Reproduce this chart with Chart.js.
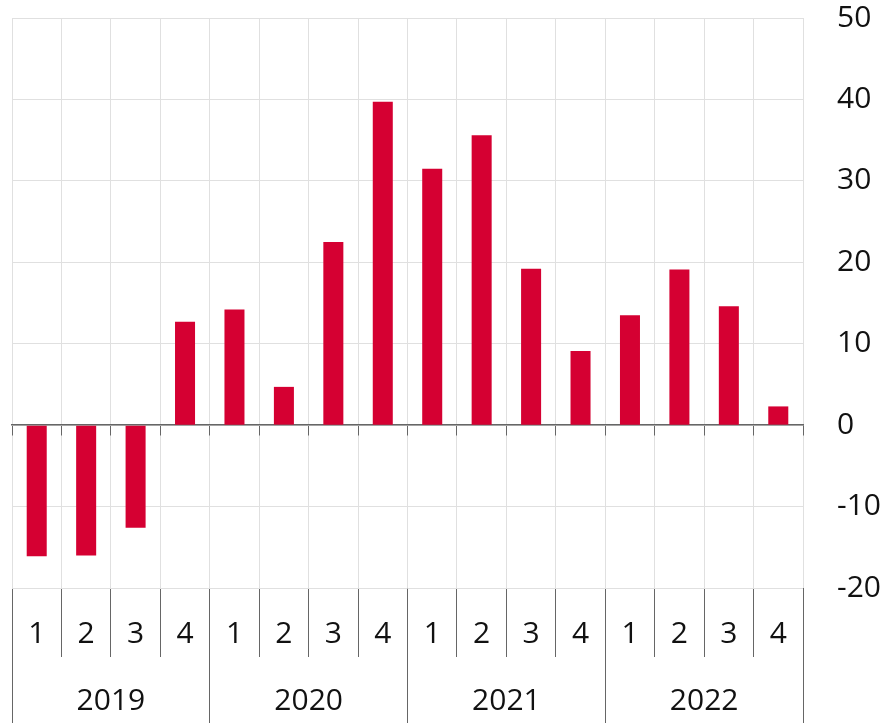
<!DOCTYPE html>
<html>
<head>
<meta charset="utf-8">
<script src="https://cdn.jsdelivr.net/npm/chart.js@4"></script>
<style>
  html, body { margin: 0; padding: 0; background: #fff; }
  #wrap { width: 882px; height: 723px; }
</style>
</head>
<body>
<div id="wrap"><canvas id="chart" width="882" height="723"></canvas></div>
<script>
// data
const quarters = ['1', '2', '3', '4', '1', '2', '3', '4', '1', '2', '3', '4', '1', '2', '3', '4'];
const years = ['2019', '2020', '2021', '2022'];
const values = [-16.1, -16.0, -12.6, 12.7, 14.2, 4.7, 22.5, 39.7, 31.5, 35.6, 19.2, 9.1, 13.5, 19.1, 14.6, 2.3];

const gridColor = '#e0e0e0';
const darkLine = '#666666';
const textColor = '#111111';
const font = { family: '"Open Sans", sans-serif', size: 30 };

Chart.defaults.color = textColor;
Chart.defaults.font = font;

const ctx = document.getElementById('chart').getContext('2d');
new Chart(ctx, {
    type: 'bar',
    data: {
        labels: quarters,
        datasets: [{
            data: values,
            backgroundColor: '#d50032',
            borderWidth: 0,
            barPercentage: 0.81,
            categoryPercentage: 0.5
        }]
    },
    options: {
        responsive: false,
        animation: false,
        layout: { padding: { left: 12, top: 0, right: 0, bottom: 3 } },
        plugins: { legend: { display: false }, tooltip: { enabled: false } },
        scales: {
            // quarter row under the plot
            x: {
                type: 'category',
                axis: 'x',
                position: 'bottom',
                offset: true,
                grid: { offset: true, color: gridColor, tickColor: darkLine, tickLength: 69 },
                border: { display: false },
                ticks: { autoSkip: false, maxRotation: 0, padding: -41, font: font, color: textColor },
                afterFit: function(scale) { scale.height = 69; }
            },
            // year row
            years: {
                type: 'category',
                axis: 'x',
                position: 'bottom',
                labels: years,
                offset: true,
                grid: { offset: true, drawOnChartArea: false, tickColor: darkLine, tickLength: 66 },
                border: { display: false },
                ticks: { autoSkip: false, maxRotation: 0, padding: -40, font: font, color: textColor },
                afterFit: function(scale) { scale.height = 63; }
            },
            // zero line with small ticks
            zero: {
                type: 'category',
                axis: 'x',
                position: { y: 0 },
                offset: true,
                grid: { offset: true, drawOnChartArea: false, tickColor: darkLine, tickLength: 10 },
                border: { display: true, color: darkLine, width: 1.5 },
                ticks: { display: false }
            },
            y: {
                position: 'right',
                min: -20,
                max: 50,
                grid: { color: gridColor, drawTicks: true, tickLength: 34, tickColor: 'rgba(0,0,0,0)' },
                border: { display: false },
                ticks: { stepSize: 10, padding: 0, crossAlign: 'near', font: font, color: textColor },
                afterFit: function(scale) { scale.width = 79; }
            }
        }
    }
});
</script>
</body>
</html>
